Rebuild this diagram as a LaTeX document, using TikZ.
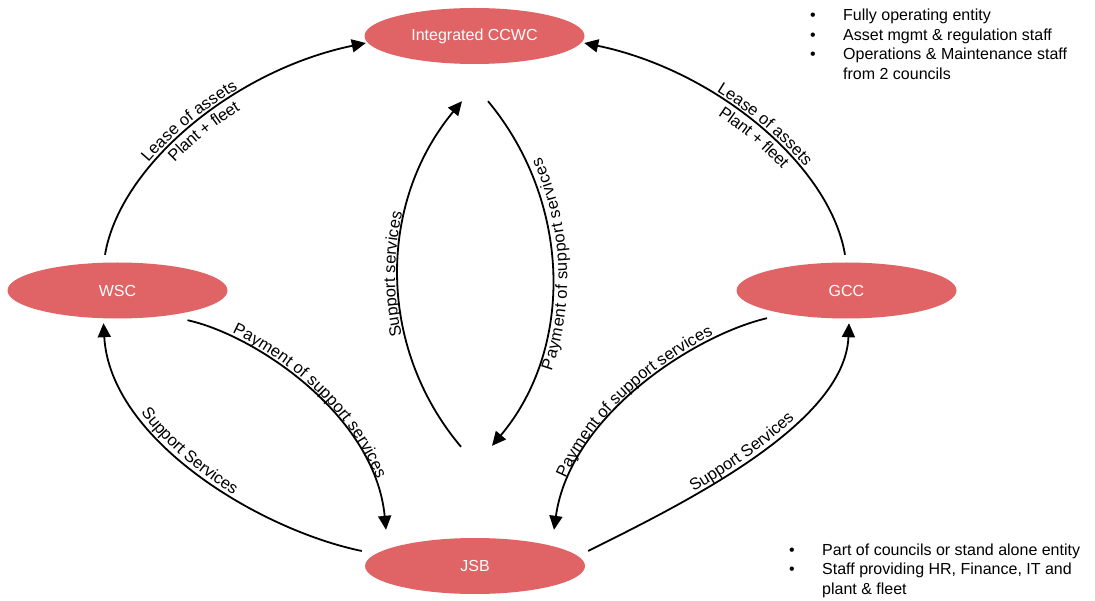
\documentclass[tikz,border=0pt]{standalone}
\usepackage{fontspec}
\setmainfont{Liberation Sans}
\usetikzlibrary{shapes.geometric,arrows.meta,decorations.text}
\definecolor{entred}{RGB}{224,99,101}
\newcommand\lblfont{\fontsize{16.5}{19}\selectfont}
\tikzset{
  entity/.style={ellipse, fill=entred, draw=none, minimum width=220pt,
    minimum height=56pt, inner sep=0pt, text=white, font=\fontsize{16}{19}\selectfont},
  flow/.style={draw, line width=1.8pt, -{Triangle[length=14pt,width=13pt]}},
  notes/.style={anchor=base west, inner sep=0pt, font=\fontsize{16}{19.5}\selectfont},
  along/.style n args={3}{decorate, decoration={text along path,
    text={|\lblfont|#3}, text align={left indent=#1}, raise=#2}},
}
\begin{document}
\begin{tikzpicture}[x=1pt, y=-1pt]
\useasboundingbox (0,0) rectangle (1095,601);

% organisations
\node[entity] (ccwc) at (474.5,36) {Integrated CCWC};
\node[entity] (wsc) at (117.5,290.5) {WSC};
\node[entity] (gcc) at (846.5,290.5) {GCC};
\node[entity] (jsb) at (475,566) {JSB};

% councils to the integrated entity
\draw[flow] ([shift={(-12.5,-7.5)}]wsc.north) .. controls (120,165) and (235,70) .. ([shift={(1.5,7)}]ccwc.west);
\draw[flow] ([shift={(-1.5,-7.5)}]gcc.north) .. controls (830,165) and (715,70) .. ([shift={(-0.5,7)}]ccwc.east);
% councils and the shared business unit
\draw[flow] ([shift={(70,1.5)}]wsc.south) .. controls (255,335) and (375,415) .. ([shift={(-89,-8)}]jsb.north);
\draw[flow] ([shift={(-3,-15)}]jsb.west) .. controls (260,530) and (110,440) .. ([shift={(-14,4.5)}]wsc.south);
\draw[flow] ([shift={(-79.5,-0.5)}]gcc.south) .. controls (695,335) and (570,415) .. ([shift={(79,-8)}]jsb.north);
\draw[flow] ([shift={(3,-15)}]jsb.east) .. controls (680,505) and (845,425) .. ([shift={(2.5,4.5)}]gcc.south);
% integrated entity and the shared business unit
\draw[flow] ([shift={(-14,-91)}]jsb.north) .. controls (376,346) and (378,202) .. ([shift={(-12.5,37)}]ccwc.south);
\draw[flow] ([shift={(13.5,37)}]ccwc.south) .. controls (571,201) and (575,347) .. ([shift={(17,-92)}]jsb.north);

% labels set along the flows
\path[along={102pt}{3.5pt}{Lease of assets}] ([shift={(-12.5,-7.5)}]wsc.north) .. controls (120,165) and (235,70) .. ([shift={(1.5,7)}]ccwc.west);
\path[along={121pt}{-15.5pt}{Plant + fleet}] ([shift={(-12.5,-7.5)}]wsc.north) .. controls (120,165) and (235,70) .. ([shift={(1.5,7)}]ccwc.west);
\path[along={141pt}{3.5pt}{Lease of assets}] ([shift={(-0.5,7)}]ccwc.east) .. controls (715,70) and (830,165) .. ([shift={(-1.5,-7.5)}]gcc.north);
\path[along={155pt}{-15.5pt}{Plant + fleet}] ([shift={(-0.5,7)}]ccwc.east) .. controls (715,70) and (830,165) .. ([shift={(-1.5,-7.5)}]gcc.north);
\path[along={46pt}{3pt}{Payment of support services}] ([shift={(70,1.5)}]wsc.south) .. controls (255,335) and (375,415) .. ([shift={(-89,-8)}]jsb.north);
\path[along={99pt}{3pt}{Support Services}] ([shift={(-14,4.5)}]wsc.south) .. controls (110,440) and (260,530) .. ([shift={(-3,-15)}]jsb.west);
\path[along={52pt}{3pt}{Payment of support services}] ([shift={(79,-8)}]jsb.north) .. controls (570,415) and (695,335) .. ([shift={(-79.5,-0.5)}]gcc.south);
\path[along={121pt}{3pt}{Support Services}] ([shift={(3,-15)}]jsb.east) .. controls (680,505) and (845,425) .. ([shift={(2.5,4.5)}]gcc.south);
\path[along={126pt}{3pt}{Support services}] ([shift={(-14,-91)}]jsb.north) .. controls (376,346) and (378,202) .. ([shift={(-12.5,37)}]ccwc.south);
\path[along={92pt}{-15pt}{Payment of support services}] ([shift={(17,-92)}]jsb.north) .. controls (575,347) and (571,201) .. ([shift={(13.5,37)}]ccwc.south);

% notes
\node[notes] (ccwcnotes) at (810,21) {\begin{tabular}[t]{@{}l@{}}
  \makebox[33pt][l]{\textbullet}Fully operating entity\\
  \makebox[33pt][l]{\textbullet}Asset mgmt \& regulation staff\\
  \makebox[33pt][l]{\textbullet}Operations \& Maintenance staff\\
  \makebox[33pt][l]{}from 2 councils
\end{tabular}};
\node[notes] (jsbnotes) at (789,555) {\begin{tabular}[t]{@{}l@{}}
  \makebox[33pt][l]{\textbullet}Part of councils or stand alone entity\\
  \makebox[33pt][l]{\textbullet}Staff providing HR, Finance, IT and\\
  \makebox[33pt][l]{}plant \& fleet
\end{tabular}};
\end{tikzpicture}
\end{document}
